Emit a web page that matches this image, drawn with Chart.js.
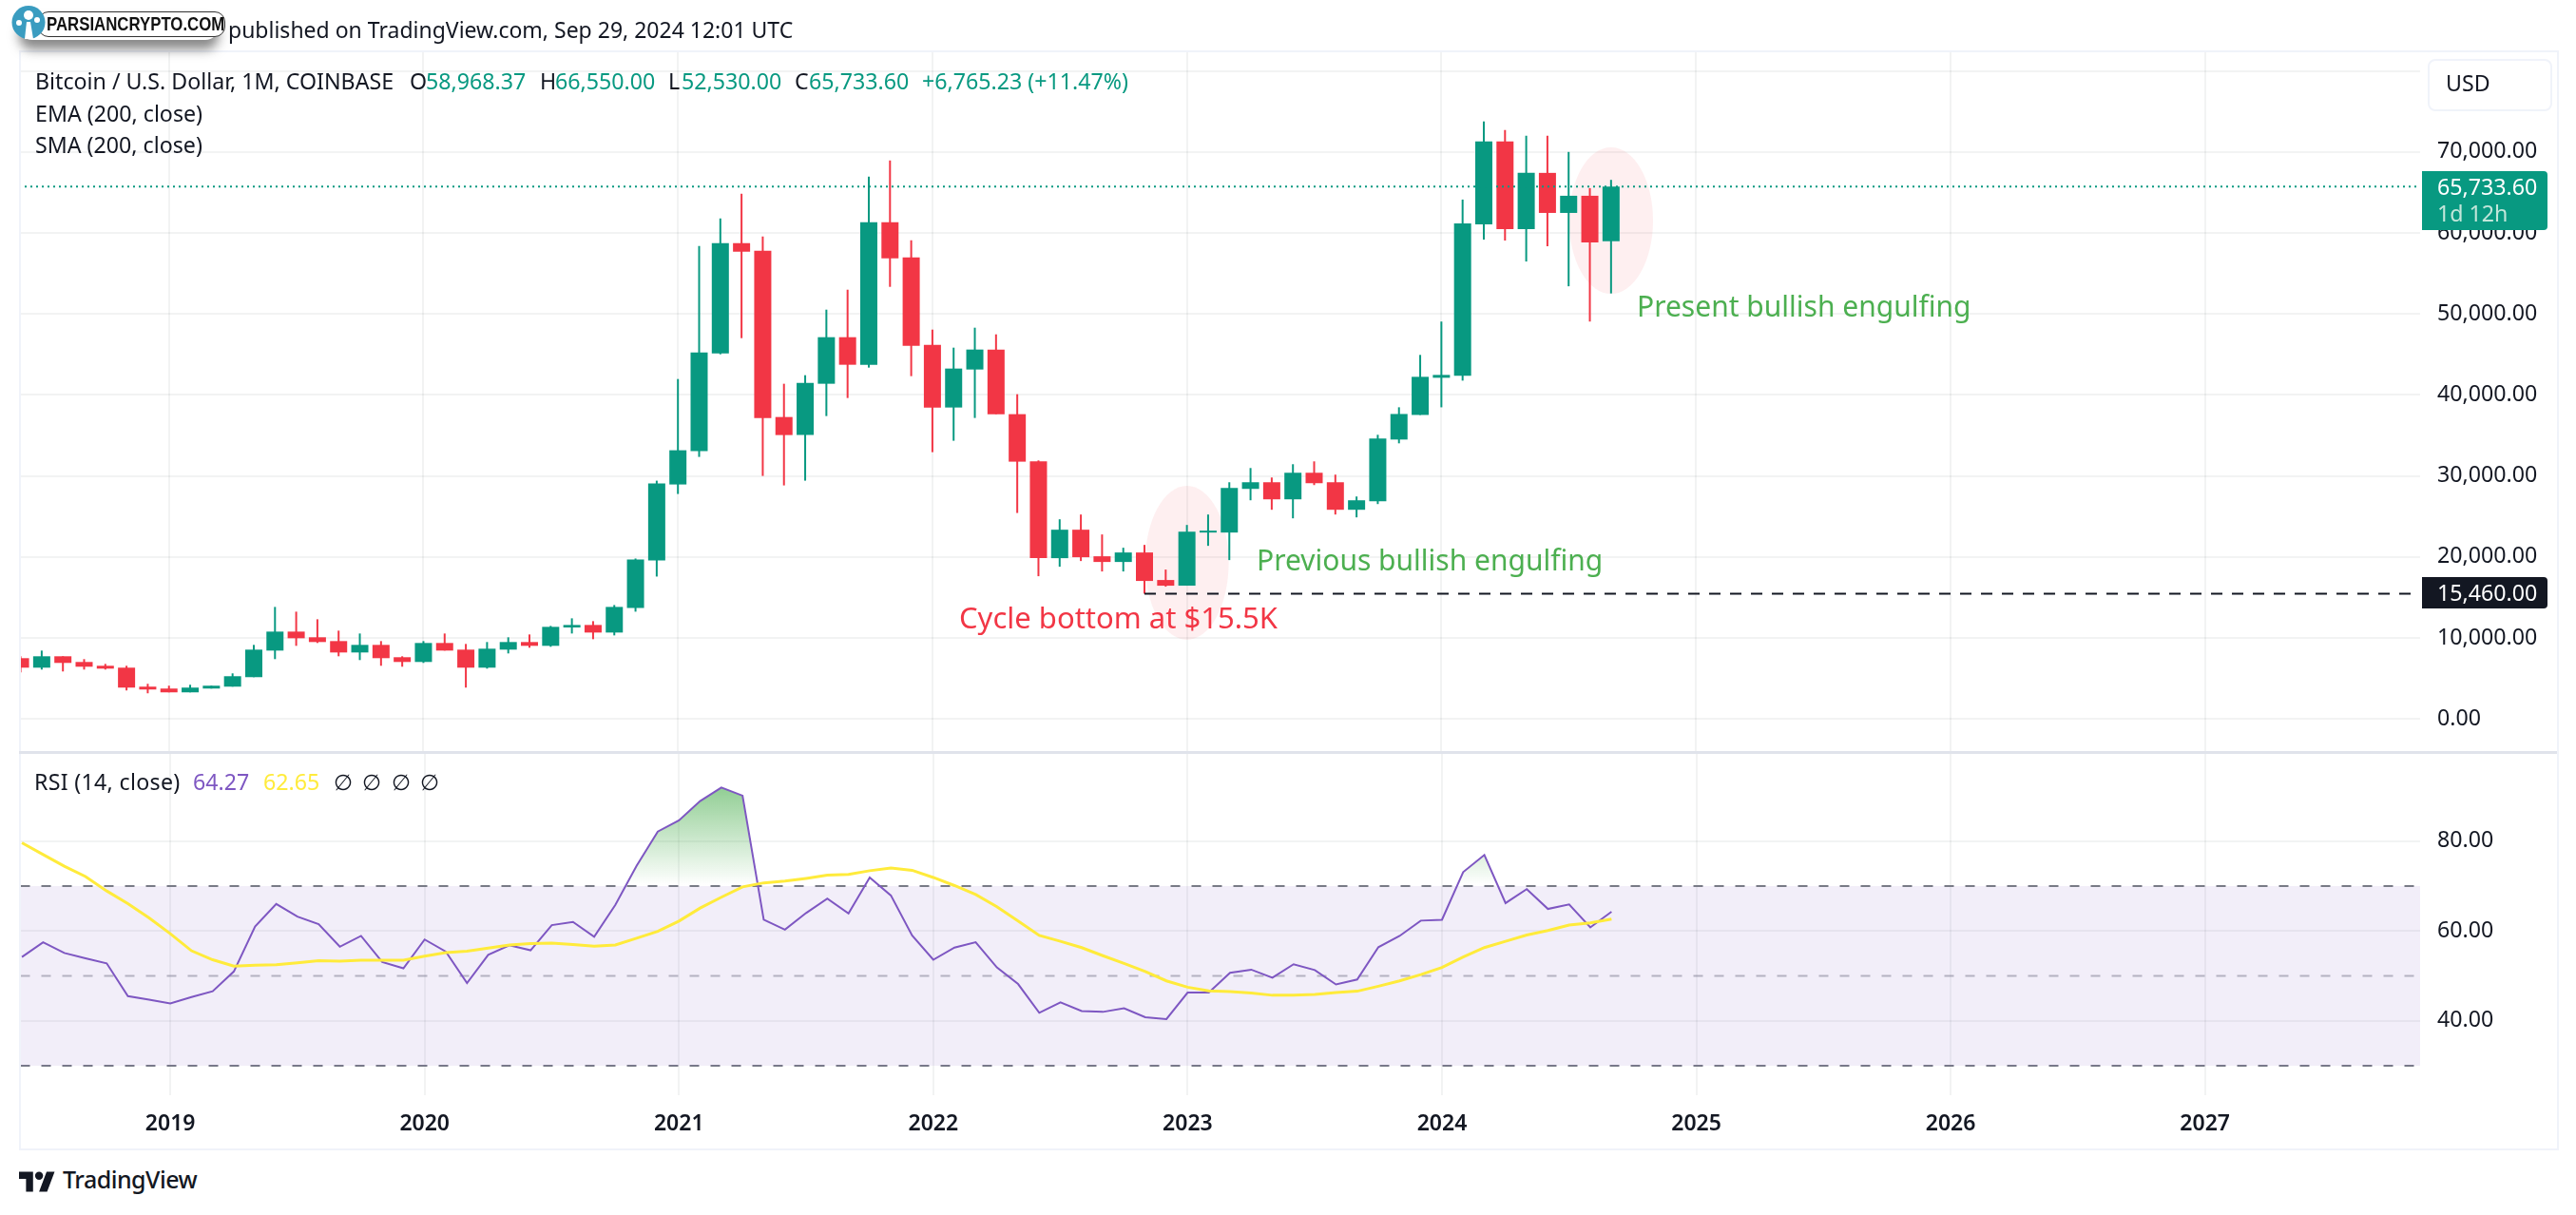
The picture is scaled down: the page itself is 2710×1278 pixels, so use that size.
<!DOCTYPE html>
<html>
<head>
<meta charset="utf-8">
<script src="https://cdn.jsdelivr.net/npm/chart.js@4"></script>
<style>
html, body { margin: 0; padding: 0; background: #fff; }
#page { position: relative; width: 2710px; height: 1278px; overflow: hidden; font-family: "Noto Sans", sans-serif; color: #131722; }
#page canvas { position: absolute; left: 20px; }
#frame { position: absolute; left: 20px; top: 53px; width: 2668px; height: 1153px; border: 2px solid #f0f3fa; }
#separator { position: absolute; left: 20px; top: 790px; width: 2670px; height: 3px; background: #e0e3eb; }
.txt { position: absolute; white-space: nowrap; font-size: 23.2px; line-height: 30px; }
.note { position: absolute; white-space: nowrap; font-size: 30px; line-height: 40px; }
.up { color: #089981; }
#usd { position: absolute; left: 2554px; top: 62px; width: 127px; height: 51px; border: 2px solid #f0f3fa; border-radius: 8px; background: #fff; }
.tag { position: absolute; left: 2548px; width: 132px; border-radius: 0 4px 4px 0; }
#logoShadow { position: absolute; left: 20px; top: 12px; width: 210px; height: 30px; border-radius: 14px; box-shadow: 0 10px 12px rgba(40,40,40,.55); }
#logoPill { position: absolute; left: 40px; top: 12px; width: 195px; height: 25px; background: #fff; border: 1px solid #333; border-radius: 11px; }
#logoText { position: absolute; left: 49px; top: 11px; font-family: "Liberation Sans", sans-serif; font-weight: 700; font-size: 20px; line-height: 28px; color: #111; white-space: nowrap; transform: scaleX(0.84); transform-origin: left center; }
</style>
</head>
<body>
<div id="page">
  <canvas id="price_canvas" width="2670" height="737" style="top:53px"></canvas>
  <canvas id="rsi_canvas" width="2670" height="417" style="top:790px"></canvas>
  <div id="frame"></div>
  <div id="separator"></div>

  <div id="logoShadow"></div>
  <div class="txt" style="left:240px;top:16px;font-size:23px">published on TradingView.com, Sep 29, 2024 12:01 UTC</div>
  <div id="logoPill"></div>
  <div id="logoText">PARSIANCRYPTO.COM</div>
  <svg style="position:absolute;left:12px;top:5px" width="36" height="37" viewBox="0 0 36 37">
    <circle cx="18" cy="18.5" r="17.5" fill="#3a9cc0"/>
    <g fill="#fff">
      <circle cx="18" cy="11" r="5"/><circle cx="8" cy="19" r="3"/><circle cx="27" cy="16" r="3"/>
      <path d="M14 36 L16 18 L20 18 L23 36 Z"/>
    </g>
  </svg>

  <div class="txt" style="left:37px;top:70px">Bitcoin / U.S. Dollar, 1M, COINBASE</div>
  <div class="txt" style="left:431px;top:70px">O</div>
  <div class="txt up" style="left:448px;top:70px">58,968.37</div>
  <div class="txt" style="left:568px;top:70px">H</div>
  <div class="txt up" style="left:584px;top:70px">66,550.00</div>
  <div class="txt" style="left:703px;top:70px">L</div>
  <div class="txt up" style="left:717px;top:70px">52,530.00</div>
  <div class="txt" style="left:836px;top:70px">C</div>
  <div class="txt up" style="left:851px;top:70px">65,733.60</div>
  <div class="txt up" style="left:970px;top:70px">+6,765.23 (+11.47%)</div>
  <div class="txt" style="left:37px;top:104px">EMA (200, close)</div>
  <div class="txt" style="left:37px;top:137px">SMA (200, close)</div>

  <div class="note" style="left:1009px;top:629px;font-size:31px;color:#f23645">Cycle bottom at $15.5K</div>
  <div class="note" style="left:1322px;top:569px;color:#4caf50">Previous bullish engulfing</div>
  <div class="note" style="left:1722px;top:302px;color:#4caf50">Present bullish engulfing</div>

  <div id="usd"></div>
  <div class="txt" style="left:2573px;top:72px">USD</div>
  <div class="tag" style="top:180px;height:62px;background:#089981"></div>
  <div class="txt" style="left:2564px;top:181px;color:#fff">65,733.60</div>
  <div class="txt" style="left:2564px;top:209px;color:#c2e6da">1d 12h</div>
  <div class="tag" style="top:607px;height:33px;background:#131722"></div>
  <div class="txt" style="left:2564px;top:608px;color:#fff">15,460.00</div>

  <div class="txt" style="left:36px;top:807px;letter-spacing:0.3px">RSI (14, close)</div>
  <div class="txt" style="left:203px;top:807px;color:#7e57c2">64.27</div>
  <div class="txt" style="left:277px;top:807px;color:#ffeb3b">62.65</div>
  <div class="txt" style="left:351px;top:807px">∅</div>
  <div class="txt" style="left:381px;top:807px">∅</div>
  <div class="txt" style="left:412px;top:807px">∅</div>
  <div class="txt" style="left:442px;top:807px">∅</div>

  <svg style="position:absolute;left:20px;top:1229px" width="38" height="26" viewBox="0 2 36 22">
    <path fill="#131722" d="M14 24H7V11H0V4h14v20zM28 24h-8l7.5-20h8L28 24z"/><circle fill="#131722" cx="20" cy="8" r="4"/>
  </svg>
  <div class="txt" style="left:66px;top:1222px;font-size:25px;line-height:36px;font-weight:500;letter-spacing:-0.5px">TradingView</div>
</div>

<script>
// monthly candles, Jun 2018 .. Sep 2024
const FIRST_MONTH = -7; // months counted from Jan 2019

const openPrices = [7500, 6328, 7734, 7031, 6562, 6328, 3984,
    3750, 3281, 3750, 3984, 5156, 8437, 10781, 10078, 9609, 8203, 9140, 7617,
    7031, 9375, 8554, 6328, 8554, 9492, 9023, 11290, 11600, 10664, 13710, 19570,
    28945, 33050, 45132, 58739, 57800, 37273, 35045, 41379, 47127, 43725, 61320, 56980,
    46188, 38446, 43138, 45602, 37625, 31797, 19845, 23360, 20079, 19376, 20548, 17150,
    16447, 23009, 23009, 28399, 29219, 27110, 30391, 29219, 25821, 26876, 34492, 37529,
    42118, 42353, 61059, 71294, 60470, 67412, 62470, 64588, 58968.37];
const highPrices = [7734, 8437, 7734, 7382, 6796, 6562, 4335,
    4101, 4218, 4101, 5625, 9140, 13827, 13241, 12304, 10898, 10546, 9609, 7734,
    9609, 10546, 9257, 9492, 10078, 10429, 11484, 12421, 12070, 14062, 19804, 29414,
    41965, 58387, 61789, 64839, 59560, 41379, 42435, 50528, 52991, 66950, 68944, 59091,
    48065, 45836, 48300, 47478, 40088, 31914, 24649, 25235, 22775, 21134, 21486, 18439,
    23946, 25235, 29219, 30977, 29805, 31446, 31797, 30157, 27461, 35078, 38476, 44941,
    49059, 64118, 73765, 72706, 72000, 72000, 70000, 65529, 66550];
const lowPrices = [5742, 6093, 5859, 6093, 6093, 3515, 3164,
    3281, 3281, 3750, 3984, 5156, 7382, 9023, 9375, 7734, 7265, 6562, 6445,
    6914, 8437, 3867, 6210, 8085, 8789, 8906, 10546, 9843, 10312, 13241, 17577,
    27772, 32347, 45015, 47009, 30000, 28828, 29414, 37390, 39619, 43373, 53343, 42317,
    32933, 34341, 37156, 37625, 25426, 17618, 18790, 19492, 18204, 18204, 15460, 16330,
    16447, 21368, 19610, 26993, 25821, 24766, 28868, 25235, 24883, 26524, 34024, 37529,
    38470, 41765, 59176, 59059, 56470, 58353, 53412, 49059, 52530];
const closePrices = [6328, 7734, 6914, 6445, 6210, 3867, 3632,
    3281, 3867, 4101, 5273, 8554, 10781, 9960, 9492, 8203, 9140, 7500, 7031,
    9375, 8437, 6328, 8671, 9492, 9023, 11367, 11600, 10664, 13827, 19687, 29062,
    33168, 45250, 58739, 57683, 37156, 35045, 41496, 47127, 43725, 61320, 56862, 46070,
    38446, 43256, 45602, 37625, 31760, 19845, 23360, 19962, 19376, 20548, 17033, 16447,
    23126, 23243, 28516, 29219, 27110, 30391, 29102, 25821, 26993, 34610, 37647, 42235,
    42470, 61176, 71294, 60470, 67412, 62470, 64588, 58824, 65733.6];

const rsiValues = [54.2, 57.5, 55.1, 53.9, 52.8, 45.5, 44.7,
    43.9, 45.3, 46.6, 51.0, 61.0, 66.0, 63.2, 61.5, 56.5, 58.9, 53.1, 51.7,
    58.1, 55.4, 48.4, 54.7, 56.8, 55.7, 61.3, 62.0, 58.7, 65.8, 74.5, 82.1,
    84.6, 88.9, 91.9, 90.1, 62.5, 60.3, 64.0, 67.2, 63.9, 71.9, 67.9, 59.0,
    53.6, 56.3, 57.5, 51.9, 48.2, 41.8, 44.1, 42.2, 42.0, 42.8, 40.8, 40.4,
    46.3, 46.3, 50.7, 51.4, 49.6, 52.6, 51.3, 48.1, 49.2, 56.4, 58.9, 62.3,
    62.5, 73.1, 76.9, 66.2, 69.3, 64.9, 65.9, 60.8, 64.27];
const rsiMaValues = [79.6, 77.0, 74.4, 72.1, 68.9, 66.1, 62.9,
    59.4, 55.6, 53.6, 52.2, 52.4, 52.5, 52.9, 53.4, 53.3, 53.5, 53.5, 53.5,
    54.4, 55.2, 55.5, 56.2, 56.9, 57.2, 57.3, 57.0, 56.6, 56.9, 58.4, 59.9,
    62.2, 65.1, 67.5, 69.8, 70.7, 71.1, 71.7, 72.4, 72.6, 73.4, 74.0, 73.5,
    71.9, 70.1, 68.1, 65.4, 62.2, 59.0, 57.7, 56.3, 54.5, 52.8, 51.0, 48.9,
    47.5, 46.7, 46.5, 46.2, 45.7, 45.7, 45.9, 46.3, 46.6, 47.7, 48.9, 50.3,
    51.9, 54.2, 56.3, 57.7, 59.1, 60.1, 61.3, 61.8, 62.65];

const yearTicks = [0, 12, 24, 36, 48, 60, 72, 84, 96];
const yearLabels = ["2019", "2020", "2021", "2022", "2023", "2024", "2025", "2026", "2027"];
const priceTicks = [0, 10000, 20000, 30000, 40000, 50000, 60000, 70000, 80000];
const rsiTicks = [40, 60, 80];

const lastClose = 65733.6;
const cycleBottom = 15460;
const bottomMonth = 46;

// highlighted areas: month, price, half width in months, half height in price
const pinkEllipses = [
    [48, 19272, 1.97, 9507],
    [68, 61526, 1.98, 9038]
];

const X_MIN = -7.07, X_MAX = 106.15;
const GRID = 'rgba(42, 46, 57, 0.06)';
const UP = '#089981', DOWN = '#f23645';
const FONT = '"Noto Sans", sans-serif';

const months = openPrices.map((v, i) => FIRST_MONTH + i);
const candleColors = openPrices.map((v, i) => closePrices[i] >= v ? UP : DOWN);

function flatLine(value, from, to) {
    return [{ x: from, y: value }, { x: to, y: value }];
}

// axis boxes are fixed so both panes line up with the picture
function fixYAxis(scale) {
    scale.width = 144;
    scale.paddingTop = 0;
    scale.paddingBottom = 0;
}
function fixXAxis(height) {
    return (scale) => {
        scale.height = height;
        scale.paddingLeft = 0;
        scale.paddingRight = 0;
    };
}
function setTicks(values) {
    return (scale) => { scale.ticks = values.map(v => ({ value: v })); };
}

const ellipsePlugin = {
    id: 'pinkEllipses',
    beforeDatasetsDraw(chart) {
        const { ctx, scales: { x, y } } = chart;
        ctx.save();
        ctx.fillStyle = 'rgba(242, 54, 69, 0.08)';
        pinkEllipses.forEach(e => {
            const cx = x.getPixelForValue(e[0]), cy = y.getPixelForValue(e[1]);
            const rx = x.getPixelForValue(e[0] + e[2]) - cx;
            const ry = cy - y.getPixelForValue(e[1] + e[3]);
            ctx.beginPath();
            ctx.ellipse(cx, cy, rx, ry, 0, 0, Math.PI * 2);
            ctx.fill();
        });
        ctx.restore();
    }
};

function xScale(height, showLabels) {
    return {
        type: 'linear', min: X_MIN, max: X_MAX, offset: false,
        afterBuildTicks: setTicks(yearTicks),
        afterFit: fixXAxis(height),
        border: { display: false },
        grid: { color: GRID, lineWidth: 2, drawTicks: false, offset: false },
        ticks: {
            display: showLabels, autoSkip: false, maxRotation: 0, padding: 17,
            color: '#131722', font: { family: FONT, size: 23, weight: '600' },
            callback: v => yearLabels[yearTicks.indexOf(v)]
        }
    };
}

function yScale(min, max, tickValues, format) {
    return {
        position: 'right', min: min, max: max,
        afterBuildTicks: setTicks(tickValues),
        afterFit: fixYAxis,
        border: { display: false },
        grid: { color: GRID, lineWidth: 2, drawTicks: false },
        ticks: {
            padding: 18, crossAlign: 'near', color: '#131722',
            font: { family: FONT, size: 23.2 }, callback: format
        }
    };
}

const baseOptions = {
    responsive: false,
    animation: false,
    layout: { padding: 0 },
    plugins: { legend: { display: false }, tooltip: { enabled: false } },
    elements: { point: { radius: 0 }, line: { tension: 0 } }
};

var priceChart = new Chart(document.getElementById('price_canvas'), {
    type: 'bar',
    plugins: [ellipsePlugin],
    data: {
        datasets: [
            {
                type: 'line', data: flatLine(lastClose, X_MIN, X_MAX), order: 0,
                borderColor: UP, borderWidth: 2, borderDash: [2, 4]
            },
            {
                type: 'line', data: flatLine(cycleBottom, bottomMonth, X_MAX), order: 1,
                borderColor: '#131722', borderWidth: 2, borderDash: [12, 10]
            },
            {
                data: months.map((m, i) => ({ x: m, y: [openPrices[i], closePrices[i]] })), order: 2,
                backgroundColor: candleColors, barThickness: 18, grouped: false, inflateAmount: 0
            },
            {
                data: months.map((m, i) => ({ x: m, y: [lowPrices[i], highPrices[i]] })), order: 3,
                backgroundColor: candleColors, barThickness: 2, grouped: false, inflateAmount: 0
            }
        ]
    },
    options: {
        ...baseOptions,
        scales: {
            x: xScale(0, false),
            y: yScale(-3967, 82535, priceTicks, v => v === 80000 ? '' : v.toLocaleString('en-US', { minimumFractionDigits: 2 }))
        }
    }
});

var rsiChart = new Chart(document.getElementById('rsi_canvas'), {
    type: 'line',
    data: {
        datasets: [
            {
                data: rsiValues.map((v, i) => ({ x: months[i], y: v })), order: 1,
                borderColor: '#7e57c2', borderWidth: 2,
                fill: { target: { value: 70 }, above: 'rgba(76, 175, 80, 0.5)', below: 'rgba(0, 0, 0, 0)' }
            },
            {
                data: rsiMaValues.map((v, i) => ({ x: months[i], y: v })), order: 0,
                borderColor: '#ffeb3b', borderWidth: 3
            },
            {
                data: flatLine(70, X_MIN, X_MAX), order: 2,
                borderColor: '#787b86', borderWidth: 2, borderDash: [10, 12],
                fill: { target: { value: 30 }, above: 'rgba(126, 87, 194, 0.1)', below: 'rgba(0, 0, 0, 0)' }
            },
            {
                data: flatLine(50, X_MIN, X_MAX), order: 2,
                borderColor: 'rgba(120, 123, 134, 0.5)', borderWidth: 2, borderDash: [10, 12]
            },
            {
                data: flatLine(30, X_MIN, X_MAX), order: 2,
                borderColor: '#787b86', borderWidth: 2, borderDash: [10, 12]
            }
        ]
    },
    options: {
        ...baseOptions,
        scales: {
            x: xScale(55, true),
            y: yScale(23.47, 99.7, rsiTicks, v => v.toFixed(2))
        }
    }
});

// overbought gradient needs the scale pixels
var rsiY = rsiChart.scales.y;
var overbought = rsiChart.ctx.createLinearGradient(0, rsiY.getPixelForValue(100), 0, rsiY.getPixelForValue(70));
overbought.addColorStop(0, 'rgba(76, 175, 80, 0.85)');
overbought.addColorStop(1, 'rgba(76, 175, 80, 0)');
rsiChart.data.datasets[0].fill.above = overbought;
rsiChart.update();
</script>
</body>
</html>
